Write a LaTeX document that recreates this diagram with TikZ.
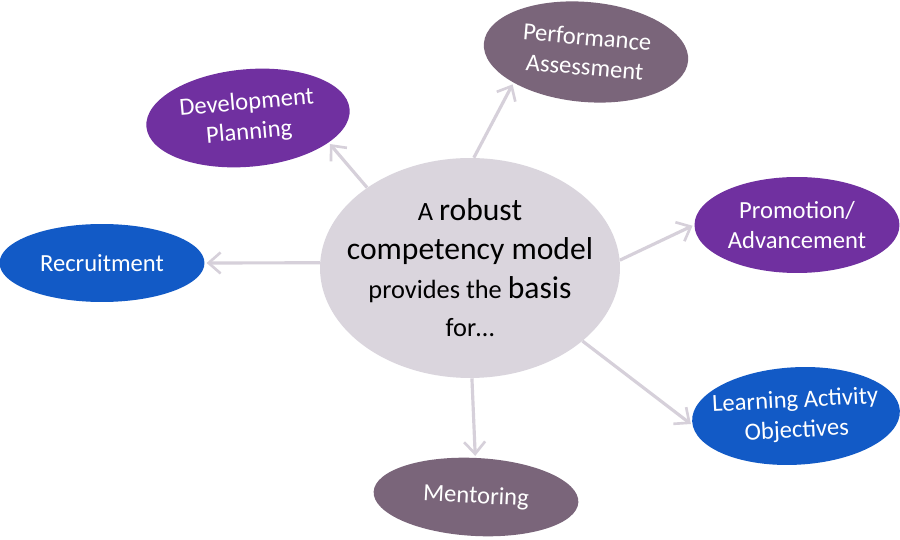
\documentclass[tikz,border=0pt]{standalone}
\usepackage{fontspec}
\setmainfont{Carlito}
\usepackage{tikz}
\usetikzlibrary{shapes.geometric, arrows.meta, positioning}
\definecolor{moradoUso}{RGB}{112, 48, 160}
\definecolor{azulUso}{RGB}{18, 90, 198}
\definecolor{malvaUso}{RGB}{122, 101, 122}
\definecolor{grisCentro}{RGB}{218, 213, 221}
\definecolor{grisFlecha}{RGB}{214, 208, 218}

\begin{document}
\begin{tikzpicture}[x=0.02cm, y=-0.02cm,
    area/.style={ellipse, inner sep=0pt, text=white, align=center,
        font=\fontsize{14}{17}\selectfont, minimum width=4.1cm, minimum height=1.95cm},
    flecha/.style={-{Straight Barb[length=2.4mm, width=4.2mm, line width=1.5pt]},
        line width=1.8pt, grisFlecha, shorten >=1pt}]
    \useasboundingbox[fill=white] (0,0) rectangle (900,540);

    % Modelo central
    \node[ellipse, fill=grisCentro, minimum width=6cm, minimum height=4.4cm,
        inner xsep=-14pt, inner ysep=-8pt, align=center, font=\fontsize{15}{22}\selectfont]
        (modelo) at (470,268)
        {A {\fontsize{18}{22}\selectfont robust}\\
         {\fontsize{18}{22}\selectfont competency model}\\
         provides the {\fontsize{18}{22}\selectfont basis}\\
         for\ldots};

    % Usos del modelo
    \node[area, fill=moradoUso, rotate=5, minimum width=4.08cm] (desarrollo) at (248,118) {Development\\Planning};
    \node[area, fill=malvaUso, rotate=-5, minimum height=2cm] (desempeno) at (586,52) {Performance\\Assessment};
    \node[area, fill=moradoUso, minimum height=1.92cm] (promocion) at (797,225) {Promotion/\\Advancement};
    \node[area, fill=azulUso, minimum height=1.56cm] (seleccion) at (102,263) {Recruitment};
    \node[area, fill=azulUso, rotate=3, minimum width=4.16cm, inner xsep=-6pt] (aprendizaje) at (796,416) {Learning Activity\\Objectives};
    \node[area, fill=malvaUso, rotate=-3, minimum height=1.56cm] (mentoria) at (476,497) {Mentoring};

    % Flechas
    \draw[flecha] (modelo.142) -- (desarrollo.-22);
    \draw[flecha] (modelo.88) -- (desempeno.208);
    \draw[flecha] (modelo.3) -- (promocion.west);
    \draw[flecha] (modelo.178) -- (seleccion.east);
    \draw[flecha] (modelo.-33) -- (aprendizaje.182);
    \draw[flecha] (modelo.-89) -- (mentoria.94);
\end{tikzpicture}
\end{document}
